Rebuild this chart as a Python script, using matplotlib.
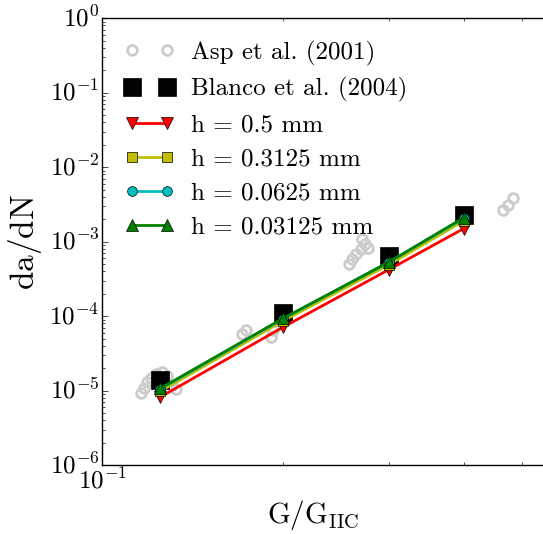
import math
import matplotlib
matplotlib.use("Agg")
import matplotlib.pyplot as plt
from matplotlib.ticker import FuncFormatter

plt.style.use("classic")
plt.rcParams["mathtext.fontset"] = "cm"
plt.rcParams["font.family"] = ["cmr10", "DejaVu Serif"]
plt.rcParams["axes.unicode_minus"] = False

# simulation / reference data
g_ratio = [0.125, 0.2, 0.3, 0.4]
blanco = [1.38e-5, 1.1e-4, 6.4e-4, 2.3e-3]
h_05 = [8.2e-6, 7.1e-5, 4.2e-4, 1.5e-3]
h_03125 = [9.8e-6, 8.6e-5, 4.9e-4, 1.9e-3]
h_00625 = [1.05e-5, 9.2e-5, 5.3e-4, 2.05e-3]
h_003125 = [1.07e-5, 9.3e-5, 5.3e-4, 2.1e-3]

asp_x = [0.1161, 0.1175, 0.1188, 0.1206, 0.1229, 0.1258, 0.1283, 0.1307, 0.1328,
         0.1709, 0.1736, 0.191, 0.1926,
         0.2578, 0.2607, 0.2647, 0.270, 0.274, 0.271, 0.277,
         0.465, 0.474, 0.483]
asp_y = [9.3e-6, 1.07e-5, 1.3e-5, 1.46e-5, 1.66e-5, 1.78e-5, 1.57e-5, 1.2e-5, 1.05e-5,
         5.7e-5, 6.6e-5, 5.2e-5, 6.6e-5,
         5.0e-4, 5.8e-4, 6.8e-4, 7.9e-4, 9.2e-4, 1.07e-3, 8.3e-4,
         2.65e-3, 3.1e-3, 3.8e-3]

fig = plt.figure(figsize=(5.43, 5.34), dpi=100, facecolor="white")
ax = fig.add_axes([0.188, 0.129, 0.861, 0.837])

ax.loglog(asp_x, asp_y, "o", mfc="none", mec="0.8", mew=2, ms=7,
          label="Asp et al. (2001)")
ax.loglog(g_ratio, blanco, "s", color="k", ms=13,
          label="Blanco et al. (2004)")
ax.loglog(g_ratio, h_05, "r-v", lw=2, ms=8, label="h = 0.5 mm")
ax.loglog(g_ratio, h_03125, "y-s", lw=2, ms=7, label="h = 0.3125 mm")
ax.loglog(g_ratio, h_00625, "c-o", lw=2, ms=7, label="h = 0.0625 mm")
ax.loglog(g_ratio, h_003125, "g-^", lw=2, ms=8, label="h = 0.03125 mm")

ax.set_xlim(0.1, 0.6)
ax.set_ylim(1e-6, 1)

# only decade labels, drawn in computer modern
fmt = FuncFormatter(lambda v, pos: r"$10^{%d}$" % round(math.log10(v)))
ax.xaxis.set_major_formatter(fmt)
ax.yaxis.set_major_formatter(fmt)
ax.tick_params(labelsize=18, pad=2)

ax.set_xlabel(r"$\mathrm{G/G_{IIC}}$", fontsize=21)
ax.xaxis.set_label_coords(0.451, -0.074)
ax.set_ylabel(r"$\mathrm{da/dN}$", fontsize=24, labelpad=4)

ax.legend(loc="upper left", frameon=False, numpoints=2, fontsize=18,
          labelspacing=0.46, handlelength=2.0, handletextpad=0.65,
          borderaxespad=0.3, borderpad=0.6)

fig.savefig("out.png", dpi=100, facecolor="white")
